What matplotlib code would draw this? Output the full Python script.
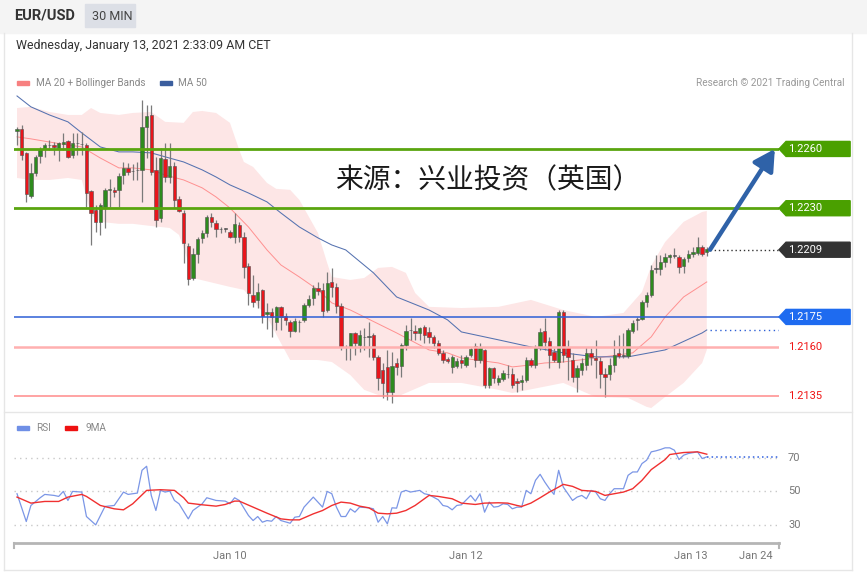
import matplotlib.pyplot as plt
import numpy as np
from matplotlib.patches import Polygon, Rectangle
from matplotlib.lines import Line2D

plt.rcParams['font.family'] = ['Roboto', 'DejaVu Sans']

# ---- data ----
# 30-min EUR/USD candles: open, high, low, close
opens = [1.22691, 1.22701, 1.22580, 1.22362, 1.22479, 1.22565, 1.22600, 1.22620, 1.22620, 1.22605,
         1.22625, 1.22640, 1.22570, 1.22630, 1.22625, 1.22620, 1.22387, 1.22291, 1.22231, 1.22307,
         1.22393, 1.22393, 1.22393, 1.22468, 1.22504, 1.22489, 1.22494, 1.22494, 1.22711, 1.22772,
         1.22494, 1.22251, 1.22549, 1.22458, 1.22514, 1.22347, 1.22276, 1.22109, 1.21947, 1.22069,
         1.22150, 1.22175, 1.22256, 1.22226, 1.22195, 1.22195, 1.22180, 1.22155, 1.22215, 1.22155,
         1.22008, 1.21861, 1.21836, 1.21887, 1.21765, 1.21775, 1.21725, 1.21801, 1.21755, 1.21725,
         1.21679, 1.21725, 1.21735, 1.21811, 1.21846, 1.21897, 1.21887, 1.21785, 1.21927, 1.21902,
         1.21806, 1.21598, 1.21598, 1.21669, 1.21608, 1.21649, 1.21649, 1.21659, 1.21548, 1.21482,
         1.21497, 1.21370, 1.21517, 1.21502, 1.21608, 1.21684, 1.21679, 1.21669, 1.21699, 1.21674,
         1.21649, 1.21618, 1.21568, 1.21537, 1.21497, 1.21502, 1.21532, 1.21507, 1.21558, 1.21603,
         1.21532, 1.21583, 1.21406, 1.21492, 1.21421, 1.21436, 1.21462, 1.21462, 1.21426, 1.21421,
         1.21431, 1.21532, 1.21507, 1.21598, 1.21679, 1.21628, 1.21573, 1.21522, 1.21775, 1.21598,
         1.21532, 1.21446, 1.21482, 1.21507, 1.21568, 1.21542, 1.21527, 1.21462, 1.21462, 1.21507,
         1.21568, 1.21553, 1.21553, 1.21679, 1.21735, 1.21740, 1.21826, 1.21861, 1.21993, 1.21993,
         1.22028, 1.22054, 1.22059, 1.22054, 1.22008, 1.22048, 1.22069, 1.22074, 1.22104, 1.22079]
highs = [1.22711, 1.22721, 1.22585, 1.22529, 1.22570, 1.22610, 1.22630, 1.22646, 1.22635, 1.22635,
         1.22681, 1.22646, 1.22681, 1.22681, 1.22686, 1.22630, 1.22393, 1.22317, 1.22327, 1.22403,
         1.22448, 1.22408, 1.22479, 1.22534, 1.22529, 1.22524, 1.22534, 1.22848, 1.22823, 1.22823,
         1.22560, 1.22605, 1.22630, 1.22630, 1.22534, 1.22362, 1.22291, 1.22124, 1.22099, 1.22155,
         1.22190, 1.22266, 1.22276, 1.22241, 1.22205, 1.22200, 1.22190, 1.22276, 1.22231, 1.22180,
         1.22023, 1.21962, 1.21922, 1.21892, 1.21821, 1.21795, 1.21806, 1.21806, 1.21770, 1.21735,
         1.21745, 1.21735, 1.21821, 1.21861, 1.21912, 1.21927, 1.21922, 1.21978, 1.21998, 1.21922,
         1.21821, 1.21608, 1.21669, 1.21674, 1.21684, 1.21694, 1.21725, 1.21669, 1.21558, 1.21517,
         1.21583, 1.21573, 1.21542, 1.21618, 1.21709, 1.21745, 1.21709, 1.21699, 1.21709, 1.21699,
         1.21659, 1.21634, 1.21583, 1.21548, 1.21558, 1.21542, 1.21558, 1.21558, 1.21598, 1.21618,
         1.21618, 1.21588, 1.21497, 1.21497, 1.21456, 1.21482, 1.21507, 1.21492, 1.21441, 1.21456,
         1.21548, 1.21542, 1.21608, 1.21694, 1.21745, 1.21649, 1.21593, 1.21785, 1.21785, 1.21634,
         1.21568, 1.21507, 1.21542, 1.21598, 1.21593, 1.21634, 1.21548, 1.21492, 1.21542, 1.21634,
         1.21659, 1.21669, 1.21694, 1.21735, 1.21750, 1.21836, 1.21876, 1.22013, 1.22064, 1.22064,
         1.22074, 1.22069, 1.22099, 1.22064, 1.22054, 1.22089, 1.22104, 1.22155, 1.22114, 1.22104]
lows = [1.22620, 1.22544, 1.22332, 1.22352, 1.22463, 1.22529, 1.22560, 1.22595, 1.22570, 1.22539,
        1.22595, 1.22554, 1.22554, 1.22570, 1.22570, 1.22307, 1.22114, 1.22180, 1.22165, 1.22200,
        1.22307, 1.22357, 1.22307, 1.22423, 1.22468, 1.22443, 1.22443, 1.22332, 1.22554, 1.22468,
        1.22205, 1.22231, 1.22433, 1.22428, 1.22301, 1.22281, 1.22023, 1.21912, 1.21937, 1.22023,
        1.22124, 1.22155, 1.22205, 1.22155, 1.22175, 1.22180, 1.22150, 1.22124, 1.22129, 1.21947,
        1.21811, 1.21801, 1.21795, 1.21720, 1.21689, 1.21649, 1.21684, 1.21684, 1.21709, 1.21649,
        1.21674, 1.21674, 1.21725, 1.21801, 1.21811, 1.21861, 1.21750, 1.21775, 1.21851, 1.21770,
        1.21583, 1.21532, 1.21532, 1.21558, 1.21573, 1.21583, 1.21548, 1.21532, 1.21381, 1.21340,
        1.21330, 1.21315, 1.21456, 1.21446, 1.21583, 1.21634, 1.21634, 1.21634, 1.21618, 1.21618,
        1.21593, 1.21558, 1.21517, 1.21517, 1.21467, 1.21492, 1.21492, 1.21497, 1.21548, 1.21497,
        1.21517, 1.21391, 1.21391, 1.21416, 1.21406, 1.21426, 1.21441, 1.21391, 1.21370, 1.21381,
        1.21421, 1.21497, 1.21492, 1.21583, 1.21583, 1.21492, 1.21522, 1.21492, 1.21522, 1.21431,
        1.21421, 1.21370, 1.21456, 1.21482, 1.21507, 1.21441, 1.21391, 1.21345, 1.21431, 1.21472,
        1.21542, 1.21542, 1.21542, 1.21669, 1.21684, 1.21735, 1.21801, 1.21851, 1.21973, 1.21962,
        1.22003, 1.22023, 1.22048, 1.21973, 1.21973, 1.22028, 1.22054, 1.22064, 1.22059, 1.22059]
closes = [1.22701, 1.22570, 1.22372, 1.22479, 1.22560, 1.22600, 1.22620, 1.22618, 1.22610, 1.22630,
          1.22635, 1.22560, 1.22630, 1.22628, 1.22623, 1.22377, 1.22276, 1.22231, 1.22317, 1.22393,
          1.22398, 1.22382, 1.22463, 1.22504, 1.22484, 1.22487, 1.22492, 1.22711, 1.22767, 1.22484,
          1.22241, 1.22554, 1.22458, 1.22514, 1.22342, 1.22286, 1.22124, 1.21942, 1.22069, 1.22145,
          1.22175, 1.22256, 1.22231, 1.22195, 1.22193, 1.22195, 1.22155, 1.22221, 1.22155, 1.22003,
          1.21871, 1.21826, 1.21876, 1.21755, 1.21775, 1.21750, 1.21801, 1.21750, 1.21735, 1.21679,
          1.21730, 1.21723, 1.21811, 1.21841, 1.21897, 1.21881, 1.21780, 1.21922, 1.21902, 1.21806,
          1.21598, 1.21596, 1.21669, 1.21618, 1.21659, 1.21647, 1.21651, 1.21548, 1.21441, 1.21416,
          1.21370, 1.21502, 1.21497, 1.21608, 1.21679, 1.21682, 1.21669, 1.21694, 1.21659, 1.21649,
          1.21618, 1.21568, 1.21532, 1.21527, 1.21548, 1.21527, 1.21517, 1.21548, 1.21588, 1.21532,
          1.21593, 1.21406, 1.21492, 1.21441, 1.21441, 1.21467, 1.21460, 1.21406, 1.21416, 1.21431,
          1.21532, 1.21507, 1.21598, 1.21674, 1.21623, 1.21558, 1.21532, 1.21775, 1.21558, 1.21548,
          1.21446, 1.21492, 1.21517, 1.21568, 1.21548, 1.21532, 1.21462, 1.21446, 1.21507, 1.21558,
          1.21553, 1.21555, 1.21684, 1.21720, 1.21737, 1.21826, 1.21861, 1.21988, 1.21995, 1.22028,
          1.22054, 1.22064, 1.22061, 1.22003, 1.22043, 1.22069, 1.22079, 1.22104, 1.22069, 1.22094]

# Bollinger bands and moving averages (candle index, price)
upper_idx = [0, 3, 7, 11, 14, 16, 18, 22, 25, 29, 32, 36, 38, 40, 43, 46, 48, 49, 51, 54, 56, 59,
             61, 65, 67, 68, 72, 75, 78, 81, 84, 86, 89, 96, 104, 111, 118, 125, 131, 135, 137, 140,
             144, 148, 149]
upper = [1.22807, 1.22813, 1.22787, 1.22772, 1.22772, 1.22807, 1.22782, 1.22772, 1.22782, 1.22787,
         1.22737, 1.22732, 1.22787, 1.22792, 1.22782, 1.22732, 1.22595, 1.22534, 1.22509, 1.22428,
         1.22398, 1.22393, 1.22342, 1.22175, 1.22023, 1.21952, 1.21937, 1.21947, 1.21998, 1.22003,
         1.21973, 1.21871, 1.21801, 1.21795, 1.21801, 1.21836, 1.21785, 1.21750, 1.21770, 1.21876,
         1.22008, 1.22129, 1.22231, 1.22281, 1.22286]
lower_idx = [0, 3, 7, 11, 14, 16, 18, 22, 25, 29, 33, 35, 37, 38, 46, 49, 54, 57, 59, 61, 65, 68,
             72, 75, 78, 82, 89, 96, 104, 107, 118, 125, 132, 136, 137, 140, 144, 148, 149]
lower = [1.22453, 1.22443, 1.22443, 1.22453, 1.22443, 1.22266, 1.22231, 1.22221, 1.22221, 1.22210,
         1.22200, 1.22165, 1.22028, 1.21947, 1.21902, 1.21887, 1.21750, 1.21618, 1.21532, 1.21532,
         1.21532, 1.21522, 1.21456, 1.21381, 1.21355, 1.21345, 1.21416, 1.21416, 1.21381, 1.21365,
         1.21416, 1.21345, 1.21340, 1.21295, 1.21289, 1.21345, 1.21416, 1.21517, 1.21583]
ma20_idx = [0, 3, 7, 11, 14, 18, 22, 25, 29, 32, 36, 40, 43, 46, 50, 54, 57, 61, 65, 68, 72, 75,
            82, 89, 93, 96, 104, 107, 111, 114, 118, 125, 133, 137, 140, 144, 149]
ma20 = [1.22661, 1.22651, 1.22635, 1.22620, 1.22610, 1.22554, 1.22504, 1.22504, 1.22494, 1.22468,
        1.22443, 1.22403, 1.22357, 1.22301, 1.22205, 1.22089, 1.22013, 1.21952, 1.21887, 1.21821,
        1.21785, 1.21750, 1.21669, 1.21583, 1.21568, 1.21542, 1.21517, 1.21497, 1.21507, 1.21517,
        1.21522, 1.21542, 1.21568, 1.21649, 1.21750, 1.21851, 1.21927]
ma50_idx = [0, 3, 7, 11, 14, 18, 22, 25, 29, 32, 36, 40, 43, 46, 50, 54, 57, 61, 65, 68, 71, 77,
            82, 89, 93, 96, 104, 111, 118, 125, 132, 140, 148, 149]
ma50 = [1.22868, 1.22813, 1.22772, 1.22737, 1.22681, 1.22610, 1.22585, 1.22585, 1.22580, 1.22560,
        1.22534, 1.22494, 1.22458, 1.22418, 1.22377, 1.22332, 1.22276, 1.22205, 1.22150, 1.22114,
        1.22089, 1.21973, 1.21851, 1.21785, 1.21735, 1.21674, 1.21634, 1.21598, 1.21568, 1.21548,
        1.21548, 1.21583, 1.21669, 1.21684]

# RSI and its 9-period MA (candle index, value)
rsi_idx = [0, 2, 3, 5, 6, 8, 9, 10, 11, 12, 14, 15, 17, 19, 21, 23, 24, 26, 27, 28, 29, 30, 31,
           32, 33, 34, 35, 37, 38, 40, 41, 43, 45, 46, 47, 48, 50, 51, 52, 53, 54, 55, 56, 57, 59,
           60, 61, 62, 64, 66, 67, 68, 69, 70, 71, 72, 73, 74, 76, 77, 78, 79, 80, 81, 82, 83, 84,
           85, 87, 88, 89, 91, 92, 93, 94, 95, 96, 98, 99, 100, 101, 102, 103, 104, 105, 106, 107,
           108, 109, 110, 111, 112, 113, 114, 115, 116, 117, 118, 119, 120, 121, 122, 123, 124, 125,
           126, 127, 128, 129, 131, 132, 133, 134, 135, 136, 137, 138, 139, 140, 141, 142, 143, 144,
           145, 147, 148, 149]
rsi = [48.4, 31.8, 41.4, 46, 48, 47.4, 46.8, 49.8, 44.4, 49.8, 49.4, 34.8, 29.8, 40.8, 41.4, 49.4,
       48, 48.8, 62.4, 64.8, 47.4, 38.4, 50.4, 49.4, 50, 44.4, 42.4, 33.4, 38.4, 42.4, 46, 44.4, 44,
       42.4, 46, 44.4, 35.4, 32.4, 34.8, 31.4, 32.4, 32, 34.8, 32.4, 30.8, 34.4, 34.8, 40.4, 46.4,
       40.4, 49.8, 48.4, 40.4, 34.8, 34.8, 39.4, 37.4, 40.4, 40, 39.4, 31.4, 34.8, 30.4, 40, 39.8,
       49.4, 50.4, 49.4, 50.4, 48.4, 47.8, 44.8, 41.4, 40.8, 38.8, 41.4, 41.8, 47.4, 44, 48.4, 37.4,
       43.4, 40.4, 40.8, 42.4, 42, 39.4, 40.4, 40.4, 50.4, 48.4, 56.4, 60, 55.4, 51.4, 48, 62.4,
       52.4, 48.4, 44.4, 46.4, 47.4, 45.4, 50.4, 49.4, 45.4, 44.4, 48.4, 51.4, 51.4, 59.4, 61.4,
       61.4, 66.4, 68.4, 73.4, 74, 74.8, 75.8, 75.8, 74.4, 68.8, 71.4, 72.4, 73.4, 69.4, 70.4]
ma9_idx = [0, 3, 6, 9, 11, 14, 15, 18, 21, 23, 25, 28, 31, 34, 36, 37, 40, 43, 45, 47, 48, 51, 54,
           57, 59, 61, 64, 66, 68, 70, 72, 74, 76, 78, 80, 82, 84, 86, 89, 91, 94, 96, 99, 101, 104,
           106, 108, 109, 111, 113, 115, 117, 118, 120, 122, 125, 127, 129, 131, 133, 135, 137, 140,
           141, 144, 147, 149]
ma9 = [46.4, 42.8, 43.8, 43.8, 46.4, 48, 46.8, 41.4, 39.4, 38.8, 42.4, 50.4, 50.8, 50.4, 46, 42.8,
       41.8, 41, 42, 44, 44, 40.4, 36.8, 33.4, 32.8, 32.8, 36.4, 38.4, 41.4, 43.4, 42.8, 41, 40,
       36.8, 36.4, 36.8, 38.4, 41.4, 47.4, 46.8, 45.4, 42.8, 42, 42.8, 43, 42.8, 41.4, 40.8, 42.8,
       46, 49.4, 52.4, 54, 52.8, 50.4, 49.8, 47.4, 48.4, 49.4, 51.4, 56.4, 62.8, 68.8, 71.8, 73,
       73.4, 72]

# support / resistance levels
levels = [1.2260, 1.2230, 1.2209, 1.2175, 1.2160, 1.2135]
level_labels = ['1.2260', '1.2230', '1.2209', '1.2175', '1.2160', '1.2135']
rsi_ticks = [70, 50, 30]
xtick_pos = [46, 97, 145.6, 159.6]
xtick_labels = ['Jan 10', 'Jan 12', 'Jan 13', 'Jan 24']

# ---- figure ----
W, H = 867, 572
fig = plt.figure(figsize=(W / 100, H / 100), dpi=100)


def rect(l, t, r, b):
    return [l / W, 1 - b / H, (r - l) / W, (b - t) / H]


def fig_rect(l, t, r, b, **kw):
    fig.patches.append(Rectangle((l / W, 1 - b / H), (r - l) / W, (b - t) / H,
                                 transform=fig.transFigure, **kw))


def fig_line(xs, ys, **kw):
    fig.lines.append(Line2D([v / W for v in xs], [1 - v / H for v in ys],
                            transform=fig.transFigure, **kw))


# header and panel frame
fig_rect(0, 0, W, 33, color='#f4f4f4', zorder=0)
fig_rect(85, 4, 135, 27, color='#dcdfe6', zorder=1)
fig_line([4, 4], [33, 570], color='#e6e6e6', lw=1)
fig_line([852, 852], [33, 570], color='#e6e6e6', lw=1)
fig_line([4, 852], [570, 570], color='#e6e6e6', lw=1)
fig_line([4, 852], [412, 412], color='#e6e6e6', lw=1)

fig.text(14 / W, 1 - 16 / H, 'EUR/USD', fontsize=10.5, fontweight='bold', color='#333333', va='center')
fig.text(92 / W, 1 - 16 / H, '30 MIN', fontsize=9, color='#444444', va='center')
fig.text(16 / W, 1 - 46 / H, 'Wednesday, January 13, 2021 2:33:09 AM CET', fontsize=8.9,
         color='#333333', va='center')

# legends
fig_rect(17, 81, 29, 85, color='#f78080')
fig.text(36 / W, 1 - 83 / H, 'MA 20 + Bollinger Bands', fontsize=7.2, color='#888888', va='center')
fig_rect(160, 81, 172, 85, color='#3b5e9e')
fig.text(178 / W, 1 - 83 / H, 'MA 50', fontsize=7.2, color='#888888', va='center')
fig.text(844 / W, 1 - 83 / H, 'Research \u00a9 2021 Trading Central', fontsize=7.2, color='#999999',
         va='center', ha='right')
fig_rect(17, 426, 29, 430, color='#6f8fe6')
fig.text(36 / W, 1 - 428 / H, 'RSI', fontsize=7.2, color='#888888', va='center')
fig_rect(65, 426, 77, 430, color='#ee1111')
fig.text(85 / W, 1 - 428 / H, '9MA', fontsize=7.2, color='#888888', va='center')

# ---- price panel ----
xmin, xmax = -0.65, 164.6
ax = fig.add_axes(rect(14, 93, 779, 410))
ax.set_xlim(xmin, xmax)
ax.set_ylim(1.21279, 1.22883)
ax.axis('off')

band_x = list(upper_idx) + list(lower_idx[::-1])
band_y = list(upper) + list(lower[::-1])
ax.fill(band_x, band_y, color='#fde6e6', lw=0, zorder=1)
ax.plot(ma20_idx, ma20, color='#ff9090', lw=0.7, zorder=2)
ax.plot(ma50_idx, ma50, color='#5572b0', lw=0.75, zorder=2)

o = np.array(opens)
h = np.array(highs)
l = np.array(lows)
c = np.array(closes)
x = np.arange(len(c))
colors = np.where(c >= o, '#2e8b1e', '#e8151b')
colors = np.where(np.abs(c - o) < 0.00004, '#555555', colors)
ax.vlines(x, l, h, color='#7a7a7a', lw=0.9, zorder=3)
ax.bar(x, np.maximum(np.abs(c - o), 0.00003), bottom=np.minimum(o, c), width=0.72,
       color=colors, edgecolor='#505050', linewidth=0.4, zorder=4)

# level lines
ax.axhline(levels[0], color='#5aa50f', lw=2, zorder=5)
ax.axhline(levels[1], color='#5aa50f', lw=2, zorder=5)
ax.plot([x[-1] + 0.8, xmax], [levels[2]] * 2, color='#333333', ls=(0, (1, 2)), lw=1, zorder=5)
ax.axhline(levels[3], color='#2d5fd6', lw=1.1, zorder=5)
ax.axhline(levels[4], color='#ffb0b0', lw=1.8, zorder=5)
ax.axhline(levels[5], color='#ff8a8a', lw=1.1, zorder=5)
ax.plot([x[-1] + 0.8, xmax], [ma50[-1]] * 2, color='#2d5fd6', ls=(0, (1, 2.5)), lw=1, zorder=5)

# right-hand price tags
ty = ax.get_yaxis_transform()
hh = 0.00038
box_colors = ['#4aa000', '#4aa000', '#333333', '#1e6bf0', None, None]
for lv, lab, bc in zip(levels, level_labels, box_colors):
    if bc is not None:
        ax.add_patch(Polygon([(1.0, lv), (1.0092, lv + hh), (1.093, lv + hh), (1.093, lv - hh),
                              (1.0092, lv - hh)], closed=True, transform=ty, color=bc,
                             clip_on=False, zorder=6))
        ax.text(1.0118, lv, lab, transform=ty, color='white', fontsize=8, va='center', zorder=7)
    else:
        ax.text(1.0118, lv, lab, transform=ty, color='#f01414', fontsize=8, va='center', zorder=7)

# forecast arrow from last price to the 1.2260 target
ax.annotate('', xy=(163.7, levels[0]), xytext=(x[-1] + 0.7, levels[2]),
            arrowprops=dict(arrowstyle='-|>,head_width=0.5,head_length=0.9', color='#2f62a8',
                            lw=3.2, shrinkA=0, shrinkB=0, mutation_scale=14), zorder=8)

fig.text(488 / W, 1 - 180 / H, '来源：兴业投资（英国）', fontsize=20, color='#1a1a1a',
         ha='center', va='center', family=['Noto Sans CJK SC', 'DejaVu Sans'])

# ---- RSI panel ----
ax2 = fig.add_axes(rect(14, 415, 779, 545))
ax2.set_xlim(xmin, xmax)
ax2.set_ylim(17.8, 95.4)
ax2.axis('off')
for v in rsi_ticks:
    ax2.axhline(v, color='#c8c8c8', ls=(0, (1, 3)), lw=1)
    ax2.text(1.0118, v, str(v), transform=ax2.get_yaxis_transform(), color='#777777',
             fontsize=8, va='center')
ax2.plot(rsi_idx, rsi, color='#7b96e6', lw=0.9)
ax2.plot(ma9_idx, ma9, color='#f03030', lw=1.0)
ax2.plot([rsi_idx[-1], xmax], [rsi[-1]] * 2, color='#3060e0', ls=(0, (1, 2)), lw=1.1)

# time axis
ax2.plot([0, 1], [0.019, 0.019], transform=ax2.transAxes, color='#b5b5b5', lw=2, clip_on=False)
ax2.plot([0, 0], [0.019, -0.02], transform=ax2.transAxes, color='#b5b5b5', lw=1.5, clip_on=False)
ax2.plot([1, 1], [0.019, -0.02], transform=ax2.transAxes, color='#b5b5b5', lw=1.5, clip_on=False)
for p, lab in zip(xtick_pos, xtick_labels):
    ax2.text(p, -0.085, lab, transform=ax2.get_xaxis_transform(), color='#777777',
             fontsize=8, ha='center', va='center')

fig.savefig('out.png', dpi=100)
